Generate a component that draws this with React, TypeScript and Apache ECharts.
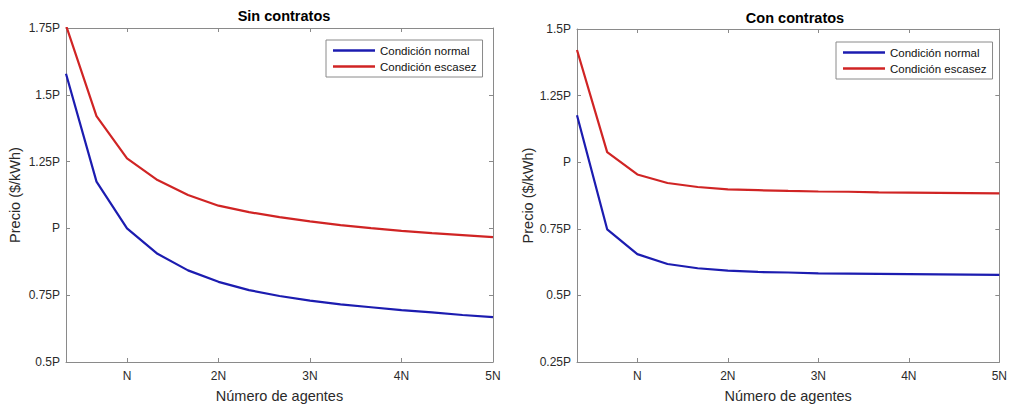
import React, { useEffect, useRef } from "react";
import * as echarts from "echarts";

// x in units of N/3 (1/3 N ... 5N)
const agentesTercios = [1, 2, 3, 4, 5, 6, 7, 8, 9, 10, 11, 12, 13, 14, 15];
const xTickValues = [3, 6, 9, 12, 15];
const xTickLabels = ["N", "2N", "3N", "4N", "5N"];

const sinNormal = [1.579, 1.175, 1.0, 0.905, 0.843, 0.8, 0.769, 0.747, 0.73, 0.716, 0.705, 0.694, 0.686, 0.676, 0.668];
const sinEscasez = [1.76, 1.42, 1.262, 1.181, 1.125, 1.085, 1.061, 1.042, 1.026, 1.012, 1.001, 0.991, 0.982, 0.975, 0.967];
const conNormal = [1.176, 0.748, 0.655, 0.618, 0.602, 0.593, 0.588, 0.586, 0.583, 0.582, 0.581, 0.58, 0.579, 0.578, 0.577];
const conEscasez = [1.421, 1.038, 0.954, 0.922, 0.907, 0.898, 0.895, 0.892, 0.89, 0.889, 0.887, 0.886, 0.885, 0.884, 0.883];

const yTicksSin = ["0.5P", "0.75P", "P", "1.25P", "1.5P", "1.75P"];
const yTicksCon = ["0.25P", "0.5P", "0.75P", "P", "1.25P", "1.5P"];

const titles = ["Sin contratos", "Con contratos"];
const seriesNames = ["Condición normal", "Condición escasez"];
const xName = "Número de agentes";
const yName = "Precio ($/kWh)";

const FONT = "'Liberation Sans', Arial, Helvetica, sans-serif";
const AX = "#8a8a8a";
const TXT = "#2a2a2a";
const BLUE = "#1c1cb0";
const RED = "#d02424";

function fmtY(v: number, labels: string[], min: number) {
  const i = Math.round((v - min) / 0.25);
  return labels[i] ?? "";
}

export default function App() {
  const ref = useRef<HTMLDivElement>(null);
  useEffect(() => {
    if (!ref.current) return;
    const chart = echarts.init(ref.current, undefined, { renderer: "svg" });
    const grids = [
      { left: 66, right: 517, top: 28, bottom: 44 },
      { left: 577, right: 6, top: 29, bottom: 41 },
    ];
    const yMins = [0.5, 0.25];
    const yMaxs = [1.75, 1.5];
    const yLabels = [yTicksSin, yTicksCon];
    const yNameGaps = [44, 42];

    const xAxes: any[] = [];
    const yAxes: any[] = [];
    [0, 1].forEach((g) => {
      const baseX = {
        type: "value",
        gridIndex: g,
        min: 1,
        max: 15,
        splitLine: { show: false },
        axisLine: { show: true, lineStyle: { color: AX, width: 1 } },
        axisTick: { show: true, inside: true, length: 4, customValues: xTickValues, lineStyle: { color: AX } },
      };
      xAxes.push({
        ...baseX,
        position: "bottom",
        name: xName,
        nameLocation: "middle",
        nameGap: 26,
        nameTextStyle: { fontFamily: FONT, fontSize: 14.5, color: TXT },
        axisLabel: {
          fontFamily: FONT,
          fontSize: 12,
          color: TXT,
          margin: 8,
          customValues: xTickValues,
          formatter: (v: number) => xTickLabels[xTickValues.indexOf(Math.round(v))] ?? "",
        },
      });
      xAxes.push({ ...baseX, position: "top", axisLabel: { show: false } });
      const baseY = {
        type: "value",
        gridIndex: g,
        min: yMins[g],
        max: yMaxs[g],
        interval: 0.25,
        splitLine: { show: false },
        axisLine: { show: true, lineStyle: { color: AX, width: 1 } },
        axisTick: { show: true, inside: true, length: 4, lineStyle: { color: AX } },
      };
      yAxes.push({
        ...baseY,
        position: "left",
        name: yName,
        nameLocation: "middle",
        nameGap: yNameGaps[g],
        nameTextStyle: { fontFamily: FONT, fontSize: 14.5, color: TXT },
        axisLabel: {
          fontFamily: FONT,
          fontSize: 12,
          color: TXT,
          margin: 6,
          formatter: (v: number) => fmtY(v, yLabels[g], yMins[g]),
        },
      });
      yAxes.push({ ...baseY, position: "right", axisLabel: { show: false } });
    });

    const mk = (name: string, vals: number[], color: string, g: number) => ({
      type: "line",
      name,
      xAxisIndex: g * 2,
      yAxisIndex: g * 2,
      data: agentesTercios.map((x, i) => [x, vals[i]]),
      showSymbol: false,
      symbol: "none",
      clip: true,
      lineStyle: { color, width: 2.2 },
      itemStyle: { color },
    });

    const legendBase = {
      orient: "vertical",
      icon: "rect",
      itemWidth: 42,
      itemHeight: 2.5,
      itemGap: 3,
      padding: [4, 6, 4, 7],
      borderColor: AX,
      borderWidth: 1,
      backgroundColor: "#fff",
      textStyle: { fontFamily: FONT, fontSize: 11.5, color: "#111", lineHeight: 13 },
      data: seriesNames,
      selectedMode: false,
    };

    chart.setOption({
      animation: false,
      backgroundColor: "#fff",
      title: [
        {
          text: titles[0],
          left: 279,
          top: 3,
          textAlign: "center",
          textStyle: { fontFamily: FONT, fontSize: 14.5, fontWeight: "bold", color: "#000" },
        },
        {
          text: titles[1],
          left: 790,
          top: 5,
          textAlign: "center",
          textStyle: { fontFamily: FONT, fontSize: 14.5, fontWeight: "bold", color: "#000" },
        },
      ],
      legend: [
        { ...legendBase, left: 326, top: 40 },
        { ...legendBase, left: 836, top: 42 },
      ],
      grid: grids,
      xAxis: xAxes,
      yAxis: yAxes,
      series: [
        mk(seriesNames[0], sinNormal, BLUE, 0),
        mk(seriesNames[1], sinEscasez, RED, 0),
        mk(seriesNames[0], conNormal, BLUE, 1),
        mk(seriesNames[1], conEscasez, RED, 1),
      ],
    });
    return () => chart.dispose();
  }, []);
  return (
    <div
      ref={ref}
      style={{ position: "absolute", left: 0, top: 0, width: 1010, height: 408, background: "#fff" }}
    />
  );
}
